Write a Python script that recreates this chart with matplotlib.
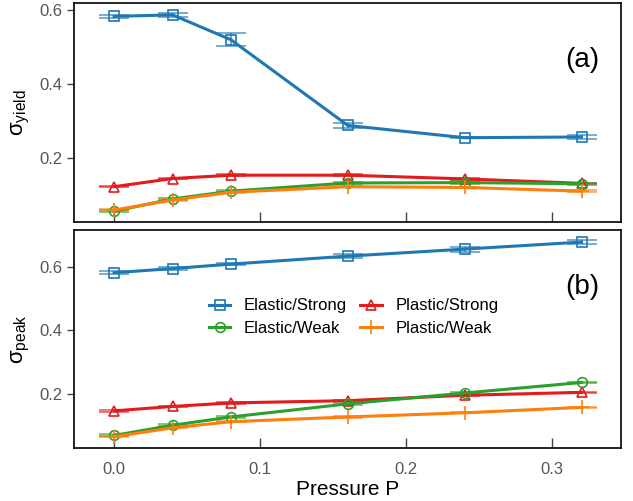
import matplotlib
matplotlib.use("Agg")
import matplotlib.pyplot as plt
from matplotlib.lines import Line2D

plt.rcParams["font.family"] = ["Liberation Sans", "DejaVu Sans"]
plt.rcParams["mathtext.fontset"] = "custom"
plt.rcParams["mathtext.rm"] = "Liberation Sans"
plt.rcParams["mathtext.it"] = "Liberation Sans:italic"
plt.rcParams["mathtext.default"] = "regular"

pressure = [0.0, 0.04, 0.08, 0.16, 0.24, 0.32]

# yield stress
yield_elastic_strong = [0.582, 0.586, 0.519, 0.288, 0.255, 0.257]
yield_elastic_strong_err = [0.004, 0.005, 0.017, 0.006, 0.002, 0.006]
yield_plastic_strong = [0.123, 0.145, 0.154, 0.154, 0.144, 0.132]
yield_plastic_strong_err = [0.002, 0.002, 0.002, 0.002, 0.002, 0.002]
yield_elastic_weak = [0.057, 0.090, 0.111, 0.133, 0.134, 0.131]
yield_elastic_weak_err = [0.003, 0.003, 0.003, 0.003, 0.003, 0.003]
yield_plastic_weak = [0.060, 0.087, 0.108, 0.123, 0.121, 0.111]
yield_plastic_weak_err = [0.002, 0.002, 0.002, 0.002, 0.002, 0.002]

# peak stress
peak_elastic_strong = [0.581, 0.594, 0.608, 0.633, 0.655, 0.677]
peak_elastic_strong_err = [0.004, 0.004, 0.004, 0.007, 0.008, 0.006]
peak_plastic_strong = [0.148, 0.162, 0.173, 0.180, 0.197, 0.206]
peak_plastic_strong_err = [0.002, 0.002, 0.002, 0.002, 0.002, 0.002]
peak_elastic_weak = [0.071, 0.103, 0.129, 0.170, 0.204, 0.237]
peak_elastic_weak_err = [0.003, 0.003, 0.003, 0.003, 0.003, 0.003]
peak_plastic_weak = [0.067, 0.095, 0.114, 0.129, 0.142, 0.159]
peak_plastic_weak_err = [0.002, 0.002, 0.002, 0.002, 0.002, 0.002]

labels = ["Elastic/Strong", "Plastic/Strong", "Elastic/Weak", "Plastic/Weak"]
colors = ["#1f77b4", "#e41a1c", "#2ca02c", "#ff7f0e"]
markers = ["s", "^", "o", "+"]
msizes = [7, 7.5, 7, 10]

yield_series = [
    (yield_elastic_strong, yield_elastic_strong_err),
    (yield_plastic_strong, yield_plastic_strong_err),
    (yield_elastic_weak, yield_elastic_weak_err),
    (yield_plastic_weak, yield_plastic_weak_err),
]
peak_series = [
    (peak_elastic_strong, peak_elastic_strong_err),
    (peak_plastic_strong, peak_plastic_strong_err),
    (peak_elastic_weak, peak_elastic_weak_err),
    (peak_plastic_weak, peak_plastic_weak_err),
]

fig = plt.figure(figsize=(6.33, 5.01), dpi=100)
ax1 = fig.add_axes([0.117, 0.557, 0.864, 0.437])
ax2 = fig.add_axes([0.117, 0.106, 0.864, 0.435])


def draw_panel(ax, series):
    for (vals, errs), lab, c, m, ms in zip(series, labels, colors, markers, msizes):
        h = ax.errorbar(
            pressure, vals, yerr=errs,
            color=c, ecolor=c, lw=2.2, elinewidth=1.3, capsize=10.5, capthick=1.3,
            marker=m, ms=ms, mfc="none", mec=c, mew=1.2, label=lab,
        )
        for part in h[1] + h[2]:
            part.set_alpha(0.7)
    ax.set_xlim(-0.0274, 0.347)
    ax.set_xticks([0.0, 0.1, 0.2, 0.3])
    ax.set_yticks([0.2, 0.4, 0.6])
    ax.tick_params(axis="x", direction="in", length=7, width=1, color="#444444",
                   labelsize=12, labelcolor="#555555", pad=10)
    ax.tick_params(axis="y", direction="out", length=5, width=1, color="#444444",
                   labelsize=12, labelcolor="#555555")
    for sp in ax.spines.values():
        sp.set_color("black")
        sp.set_linewidth(1.2)


draw_panel(ax1, yield_series)
ax1.set_ylim(0.028, 0.618)
ax1.tick_params(axis="x", labelbottom=False)
ax1.set_ylabel(r"$\sigma_{yield}$", fontsize=16, labelpad=5)
ax1.text(0.93, 0.74, "(a)", transform=ax1.transAxes, fontsize=20,
         ha="center", va="center")

draw_panel(ax2, peak_series)
ax2.set_ylim(0.032, 0.715)
ax2.set_ylabel(r"$\sigma_{peak}$", fontsize=16, labelpad=5)
ax2.set_xlabel("Pressure P", fontsize=15, labelpad=2)
ax2.text(0.93, 0.74, "(b)", transform=ax2.transAxes, fontsize=20,
         ha="center", va="center")

# legend proxies: line + open marker
proxies = {
    lab: Line2D([], [], color=c, lw=2.2, marker=m, ms=ms, mfc="none", mec=c, mew=1.2)
    for lab, c, m, ms in zip(labels, colors, markers, msizes)
}
order = ["Elastic/Strong", "Elastic/Weak", "Plastic/Strong", "Plastic/Weak"]
ax2.legend([proxies[k] for k in order], order, ncol=2, frameon=False, fontsize=12,
           loc="center", bbox_to_anchor=(0.511, 0.60), handlelength=1.3,
           handletextpad=0.8, columnspacing=0.8, labelspacing=0.45)

fig.savefig("out.png", dpi=100)
